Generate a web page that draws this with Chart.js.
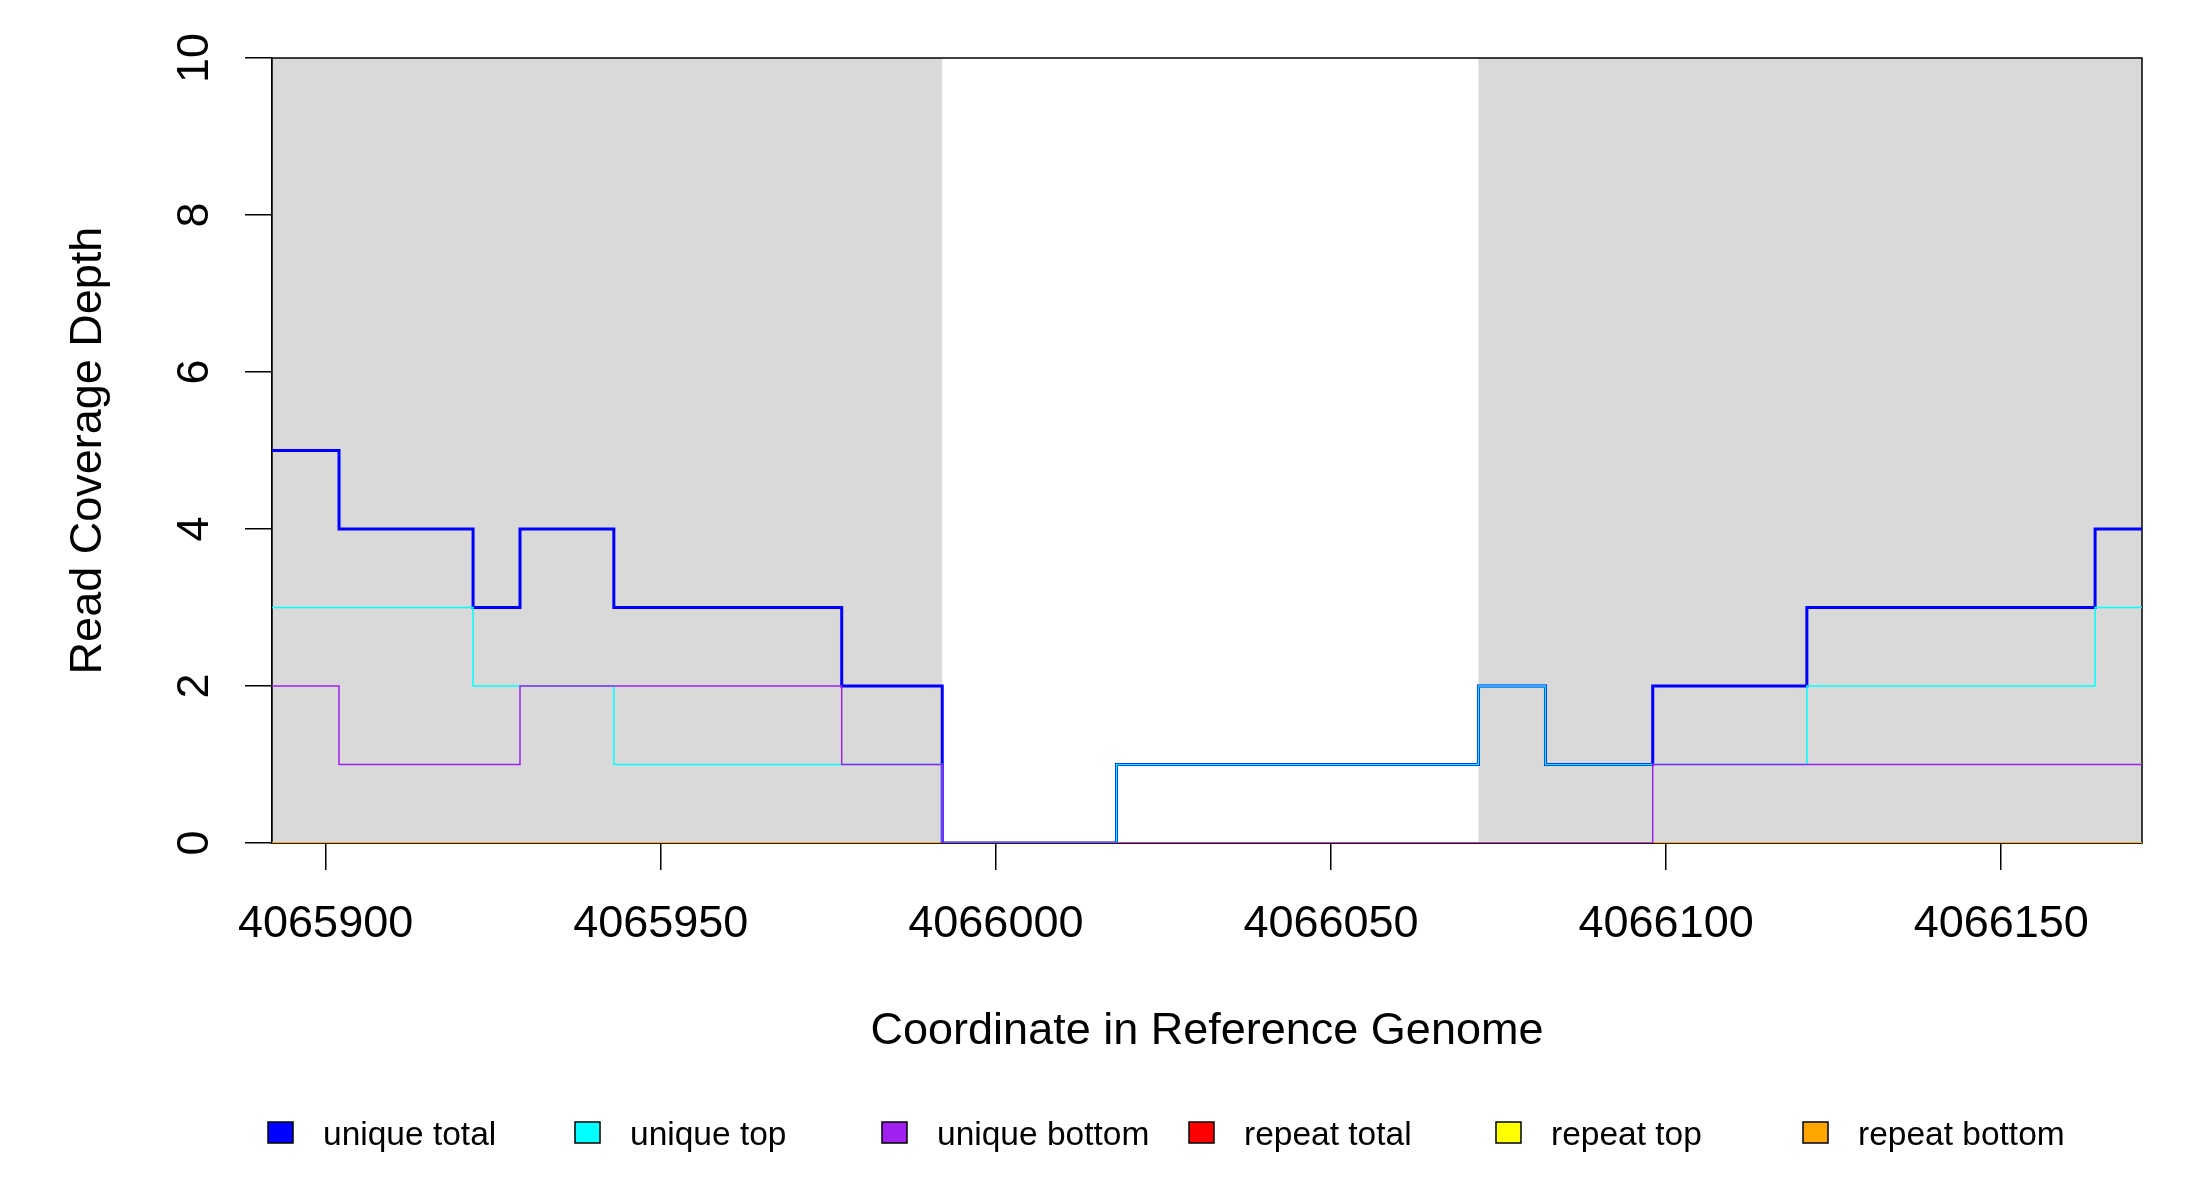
<!DOCTYPE html>
<html lang="en">
<head>
    <meta charset="UTF-8">
    <script src="https://cdn.jsdelivr.net/npm/chart.js@4/dist/chart.umd.min.js"></script>
    <style>
        body {
            margin: 0;
            background: #fff;
        }

        canvas {
            display: block;
            background: #fff;
        }
    </style>
    <title>Read Coverage Depth</title>
</head>
<body>
    <canvas id="coverageChart" width="2200" height="1200"></canvas>

    <script>
        // segment start coordinates (last one closes the plotted range)
        const segmentStart = [4065892, 4065902, 4065922, 4065929, 4065943, 4065977, 4065992,
            4066018, 4066072, 4066082, 4066098, 4066121, 4066164, 4066171];

        const uniqueTotal  = [5, 4, 3, 4, 3, 2, 0, 1, 2, 1, 2, 3, 4, 4];
        const uniqueTop    = [3, 3, 2, 2, 1, 1, 0, 1, 2, 1, 1, 2, 3, 3];
        const uniqueBottom = [2, 1, 1, 2, 2, 1, 0, 0, 0, 0, 1, 1, 1, 1];
        const repeatTotal  = [0, 0, 0, 0, 0, 0, 0, 0, 0, 0, 0, 0, 0, 0];
        const repeatTop    = [0, 0, 0, 0, 0, 0, 0, 0, 0, 0, 0, 0, 0, 0];
        const repeatBottom = [0, 0, 0, 0, 0, 0, 0, 0, 0, 0, 0, 0, 0, 0];

        const seriesLabels = ['unique total', 'unique top', 'unique bottom', 'repeat total', 'repeat top', 'repeat bottom'];
        const seriesColors = ['#0000FF', '#00FFFF', '#A020F0', '#FF0000', '#FFFF00', '#FFA500'];

        // grey shaded intervals
        const shadeStart = [4065892, 4066072];
        const shadeEnd = [4065992, 4066171];

        const xMin = 4065892;
        const xMax = 4066171;
        const xStep = 50;
        const yMin = 0;
        const yMax = 10;
        const yStep = 2;

        const FONT = '"Liberation Sans", Arial, Helvetica, sans-serif';

        const seriesValues = [uniqueTotal, uniqueTop, uniqueBottom, repeatTotal, repeatTop, repeatBottom];
        const lineWidths = [3, 1.5, 1.5, 1.5, 1.5, 1.5];
        const drawOrder = [2, 1, 0, 5, 4, 3]; // lower order is painted on top

        const datasets = seriesValues.map((values, i) => ({
            label: seriesLabels[i],
            data: segmentStart.map((x, j) => ({ x: x, y: values[j] })),
            borderColor: seriesColors[i],
            backgroundColor: seriesColors[i],
            borderWidth: lineWidths[i],
            stepped: 'before',
            pointRadius: 0,
            fill: false,
            order: drawOrder[i]
        }));

        const shadePlugin = {
            id: 'shade',
            beforeDatasetsDraw(chart) {
                const { ctx, chartArea } = chart;
                const x = chart.scales.x;
                ctx.save();
                ctx.fillStyle = '#D9D9D9';
                for (let i = 0; i < shadeStart.length; i++) {
                    const x0 = x.getPixelForValue(shadeStart[i]);
                    const x1 = x.getPixelForValue(shadeEnd[i]);
                    ctx.fillRect(x0, chartArea.top, x1 - x0, chartArea.bottom - chartArea.top);
                }
                // plot box
                ctx.strokeStyle = '#000';
                ctx.lineWidth = 1.5;
                ctx.strokeRect(chartArea.left, chartArea.top, chartArea.right - chartArea.left, chartArea.bottom - chartArea.top);
                ctx.restore();
            }
        };

        const labelPlugin = {
            id: 'labels',
            afterDraw(chart) {
                const ctx = chart.ctx;
                const y = chart.scales.y;
                ctx.save();
                ctx.fillStyle = '#000';

                // y tick labels, rotated like R's default axis
                ctx.font = '45px ' + FONT;
                ctx.textAlign = 'center';
                ctx.textBaseline = 'alphabetic';
                y.ticks.forEach(tick => {
                    ctx.save();
                    ctx.translate(208, y.getPixelForValue(tick.value));
                    ctx.rotate(-Math.PI / 2);
                    ctx.fillText(String(tick.value), 0, 0);
                    ctx.restore();
                });

                // legend row
                ctx.font = '33.5px ' + FONT;
                ctx.textAlign = 'left';
                ctx.lineWidth = 1.5;
                ctx.strokeStyle = '#000';
                chart.data.datasets.forEach((ds, i) => {
                    const left = 268 + i * 307;
                    ctx.fillStyle = ds.borderColor;
                    ctx.fillRect(left, 1122, 25, 21);
                    ctx.strokeRect(left, 1122, 25, 21);
                    ctx.fillStyle = '#000';
                    ctx.fillText(ds.label, left + 55, 1145);
                });
                ctx.restore();
            }
        };

        new Chart(document.getElementById('coverageChart').getContext('2d'), {
            type: 'line',
            data: { datasets: datasets },
            options: {
                responsive: false,
                animation: false,
                devicePixelRatio: 1,
                events: [],
                layout: {
                    padding: { top: 58, right: 58, left: 0, bottom: 0 }
                },
                plugins: {
                    legend: { display: false },
                    tooltip: { enabled: false }
                },
                scales: {
                    x: {
                        type: 'linear',
                        min: xMin,
                        max: xMax,
                        afterFit: (scale) => { scale.height = 357; },
                        ticks: {
                            stepSize: xStep,
                            includeBounds: false,
                            autoSkip: false,
                            maxRotation: 0,
                            padding: 28,
                            color: '#000',
                            font: { family: FONT, size: 45 },
                            callback: (v) => String(v)
                        },
                        grid: {
                            drawOnChartArea: false,
                            tickLength: 27,
                            color: '#000',
                            lineWidth: 1.5
                        },
                        border: { color: '#000', width: 1.5 },
                        title: {
                            display: true,
                            text: 'Coordinate in Reference Genome',
                            color: '#000',
                            font: { family: FONT, size: 45 },
                            padding: { top: 0, bottom: 141 }
                        }
                    },
                    y: {
                        min: yMin,
                        max: yMax,
                        afterFit: (scale) => { scale.width = 272; },
                        ticks: {
                            stepSize: yStep,
                            display: false
                        },
                        grid: {
                            drawOnChartArea: false,
                            tickLength: 27,
                            color: '#000',
                            lineWidth: 1.5
                        },
                        border: { color: '#000', width: 1.5 },
                        title: {
                            display: true,
                            text: 'Read Coverage Depth',
                            color: '#000',
                            font: { family: FONT, size: 45 },
                            padding: { top: 62, bottom: 0 }
                        }
                    }
                }
            },
            plugins: [shadePlugin, labelPlugin]
        });
    </script>
</body>
</html>
